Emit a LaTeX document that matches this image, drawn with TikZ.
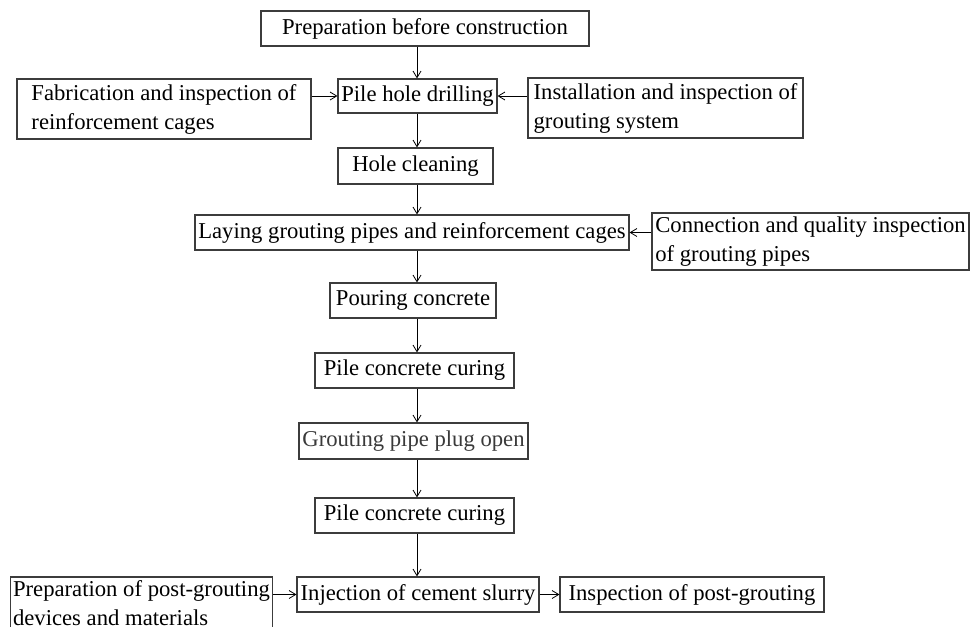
\documentclass[tikz,border=0pt]{standalone}
\usepackage{fontspec}
\setmainfont{Liberation Serif}
\usetikzlibrary{arrows.meta}
\definecolor{edge}{HTML}{3C3C3C}
\definecolor{greytext}{HTML}{3A3A3A}
\newcommand\bx[7]{\node[bx, align=#7, minimum width={(#3-#1)*0.75pt}, minimum height={(#4-#2)*0.75pt}] (#5) at ({(#1+#3)/2},{(#2+#4)/2}) {#6};}
\begin{document}
\begin{tikzpicture}[x=0.75pt,y=-0.75pt,
  bx/.style={draw=edge, line width=0.8pt, inner xsep=2pt, inner ysep=0pt,
     font=\fontsize{17}{21.75}\selectfont, text=black},
  arr/.style={draw=black, line width=0.6pt, -{Straight Barb[length=5pt,width=6pt]}}]
\clip (0,0) rectangle (971,626);
\fill[white] (0,0) rectangle (971,626);
\coordinate (col) at (417,0);
\bx{261}{11}{589}{46}{prep}{Preparation before construction}{center}
\bx{338}{79}{497}{113}{pile}{Pile hole drilling}{center}
\bx{17}{79}{311}{139}{fab}{Fabrication and inspection of\\reinforcement cages}{left}
\bx{528}{78}{803}{138}{inst}{Installation and inspection of\\grouting system}{left}
\bx{338}{148}{493}{184}{clean}{Hole cleaning}{center}
\bx{195}{215}{629}{250}{lay}{Laying grouting pipes and reinforcement cages}{center}
\bx{652}{213}{969}{270}{conn}{Connection and quality inspection\\of grouting pipes}{left}
\bx{330}{283}{496}{318}{pour}{Pouring concrete}{center}
\bx{315}{353}{514}{388}{cureA}{Pile concrete curing}{center}
\bx{299}{423}{528}{459}{plug}{\textcolor{greytext}{Grouting pipe plug open}}{center}
\bx{315}{498}{514}{533}{cureB}{Pile concrete curing}{center}
\bx{297}{577}{539}{612}{inj}{Injection of cement slurry}{center}
\bx{560}{577}{824}{612}{insp}{Inspection of post-grouting}{center}
\bx{12}{577}{271}{629}{dev}{Preparation of post-grouting\\devices and materials}{left}
\draw[arr] (prep.south -| col) -- (pile.north -| col);
\draw[arr] (fab.east |- pile) -- (pile.west);
\draw[arr] (inst.west |- pile) -- (pile.east);
\draw[arr] (pile.south -| col) -- (clean.north -| col);
\draw[arr] (clean.south -| col) -- (lay.north -| col);
\draw[arr] (conn.west |- lay) -- (lay.east);
\draw[arr] (lay.south -| col) -- (pour.north -| col);
\draw[arr] (pour.south -| col) -- (cureA.north -| col);
\draw[arr] (cureA.south -| col) -- (plug.north -| col);
\draw[arr] (plug.south -| col) -- (cureB.north -| col);
\draw[arr] (cureB.south -| col) -- (inj.north -| col);
\draw[arr] (dev.east |- inj) -- (inj.west);
\draw[arr] (inj.east) -- (insp.west);
\end{tikzpicture}
\end{document}
